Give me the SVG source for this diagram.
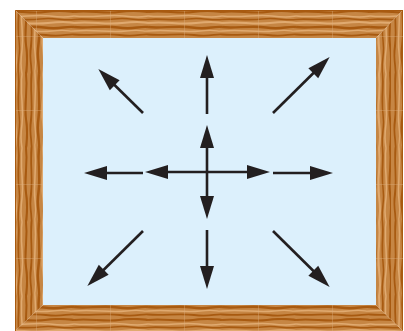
<svg xmlns="http://www.w3.org/2000/svg" width="404" height="331" viewBox="0 0 404 331">
  <defs>
    <style>
      .arr { stroke:#231f20; stroke-width:2.6; fill:none; marker-end:url(#head); }
      .dbl { marker-start:url(#head); }
      .dk { stroke:#a85a10; fill:none; }
      .lt { stroke:#e0aa70; fill:none; }
    </style>
    <marker id="head" markerUnits="userSpaceOnUse" markerWidth="26" markerHeight="16" refX="1" refY="7" orient="auto-start-reverse" overflow="visible">
      <path d="M0,0 L23,7 L0,14 Z" fill="#231f20"/>
    </marker>
    <pattern id="woodH" patternUnits="userSpaceOnUse" width="74" height="28" x="0" y="10">
      <rect width="74" height="28" fill="#c68644"/>
      <path class="dk" stroke-width="2.2" d="M0,2 C15,0 30,4 45,2 S65,1 74,2"/>
      <path class="lt" stroke-width="1.6" d="M0,6 C20,8 35,4 50,6 S68,7 74,6"/>
      <path class="dk" stroke-width="1.6" d="M0,9.5 C10,8 25,11 40,9 S62,11 74,9.5"/>
      <path class="lt" stroke-width="2" d="M0,13 C18,11 30,15 48,13 S66,12 74,13"/>
      <path class="dk" stroke-width="2.4" d="M0,17 C12,19 28,15 44,17.5 S64,16 74,17"/>
      <path class="lt" stroke-width="1.4" d="M0,21 C22,19 34,23 52,21 S68,22 74,21"/>
      <path class="dk" stroke-width="1.8" d="M0,24.5 C16,26 30,23 46,25 S66,24 74,24.5"/>
      <line x1="36.5" y1="0" x2="36.5" y2="28" stroke="#dcae80" stroke-width="0.6" opacity="0.6"/>
    </pattern>
    <pattern id="woodV" patternUnits="userSpaceOnUse" width="74" height="28" patternTransform="rotate(90)">
      <rect width="74" height="28" fill="#c68644"/>
      <path class="dk" stroke-width="2.2" d="M0,2 C15,0 30,4 45,2 S65,1 74,2"/>
      <path class="lt" stroke-width="1.6" d="M0,6 C20,8 35,4 50,6 S68,7 74,6"/>
      <path class="dk" stroke-width="1.6" d="M0,9.5 C10,8 25,11 40,9 S62,11 74,9.5"/>
      <path class="lt" stroke-width="2" d="M0,13 C18,11 30,15 48,13 S66,12 74,13"/>
      <path class="dk" stroke-width="2.4" d="M0,17 C12,19 28,15 44,17.5 S64,16 74,17"/>
      <path class="lt" stroke-width="1.4" d="M0,21 C22,19 34,23 52,21 S68,22 74,21"/>
      <path class="dk" stroke-width="1.8" d="M0,24.5 C16,26 30,23 46,25 S66,24 74,24.5"/>
      <line x1="36.5" y1="0" x2="36.5" y2="28" stroke="#dcae80" stroke-width="0.6" opacity="0.6"/>
    </pattern>
  </defs>
  <rect width="404" height="331" fill="#ffffff"/>
  <g id="frame">
    <polygon points="15,10 403,10 376,38 43,38" fill="url(#woodH)"/>
    <polygon points="15,331 403,331 376,305 43,305" fill="url(#woodH)"/>
    <polygon points="15,10 43,38 43,305 15,331" fill="url(#woodV)"/>
    <polygon points="403,10 376,38 376,305 403,331" fill="url(#woodV)"/>
    <polyline points="15.5,331 15.5,10.5 403,10.5" fill="none" stroke="#a85a10" stroke-width="1"/>
    <rect x="43" y="38" width="333" height="267" fill="#dcf0fc"/>
  </g>
  <g id="arrows">
    <line id="up" class="arr" x1="207" y1="114" x2="207" y2="77"/>
    <line id="down" class="arr" x1="207" y1="230" x2="207" y2="267"/>
    <line id="left" class="arr" x1="143" y1="173" x2="106" y2="173"/>
    <line id="right" class="arr" x1="273" y1="173" x2="311" y2="173"/>
    <line id="nw" class="arr" x1="143" y1="113" x2="114" y2="84.5"/>
    <line id="ne" class="arr" x1="273" y1="113" x2="314" y2="72.5"/>
    <line id="sw" class="arr" x1="143" y1="231" x2="103" y2="270.5"/>
    <line id="se" class="arr" x1="273" y1="231" x2="314" y2="271.5"/>
    <line id="cv" class="arr dbl" x1="207" y1="147" x2="207" y2="197"/>
    <line id="ch" class="arr dbl" x1="167" y1="172" x2="248" y2="172"/>
  </g>
</svg>
